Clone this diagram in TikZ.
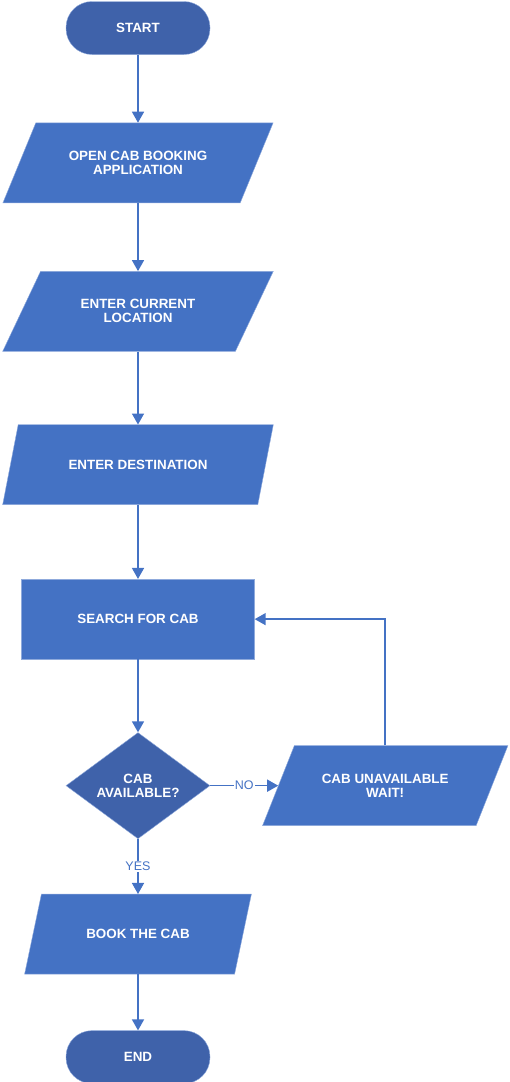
\documentclass[tikz,border=0pt]{standalone}
\usepackage{fontspec}
\setmainfont{Liberation Sans}
\usepackage{tikz}
\usetikzlibrary{shapes.geometric,arrows.meta,positioning}
\definecolor{cfblue}{HTML}{4472C4}
\definecolor{cfdark}{HTML}{3F62AA}
\definecolor{cfedge}{HTML}{8FAADC}

\begin{document}
\begin{tikzpicture}[
  term/.style={draw=cfedge, fill=cfdark, rounded corners=26pt,
               minimum width=144pt, minimum height=53pt, inner sep=0pt,
               align=center, text=white, font=\bfseries\fontsize{13.4}{14}\selectfont},
  io/.style={trapezium, trapezium left angle=46.5, trapezium right angle=133.5,
             trapezium stretches=true, draw=cfedge, fill=cfblue,
             minimum width=271pt, minimum height=80pt, inner sep=0pt,
             align=center, text=white, font=\bfseries\fontsize{13.4}{14}\selectfont},
  proc/.style={draw=cfedge, fill=cfblue, minimum width=233pt, minimum height=80pt,
               inner sep=0pt, align=center, text=white, font=\bfseries\fontsize{13.4}{14}\selectfont},
  decide/.style={diamond, draw=cfedge, fill=cfdark, minimum width=144pt, minimum height=106pt,
                 inner sep=0pt, align=center, text=white, font=\bfseries\fontsize{13.4}{14}\selectfont},
  flow/.style={draw=cfblue, line width=1.5pt, -{Triangle[width=12pt,length=11pt]}},
  tag/.style={fill=white, text=cfblue, inner sep=1pt, font=\fontsize{12.5}{14}\selectfont},
  node distance=68pt
]
\useasboundingbox (0,0) rectangle (510pt,-1082pt);

% Steps
\node[term] (start) at (138pt,-28pt) {START};
\node[io, below=of start] (openapp) {OPEN CAB BOOKING\\APPLICATION};
\node[io, below=of openapp] (curloc) {ENTER CURRENT\\LOCATION};
\node[io, below=73pt of curloc] (dest) {ENTER DESTINATION};
\node[proc, below=74pt of dest] (search) {SEARCH FOR CAB};
\node[decide, below=73pt of search] (avail) {CAB\\AVAILABLE?};
\node[io, minimum width=246pt, right=68pt of avail] (wait) {CAB UNAVAILABLE\\WAIT!};
\node[io, minimum width=227pt, below=55pt of avail] (book) {BOOK THE CAB};
\node[term, below=56pt of book] (finish) {END};

% Flow
\draw[flow] (start.south) -- (openapp.north);
\draw[flow] (openapp.south) -- (curloc.north);
\draw[flow] (curloc.south) -- (dest.north);
\draw[flow] (dest.south) -- (search.north);
\draw[flow] (search.south) -- (avail.north);
\draw[flow] (avail.east) -- node[tag]{NO} (wait.west);
\draw[flow] (avail.south) -- node[tag]{YES} (book.north);
\draw[flow] (wait.north) |- (search.east);
\draw[flow] (book.south) -- (finish.north);
\end{tikzpicture}
\end{document}
